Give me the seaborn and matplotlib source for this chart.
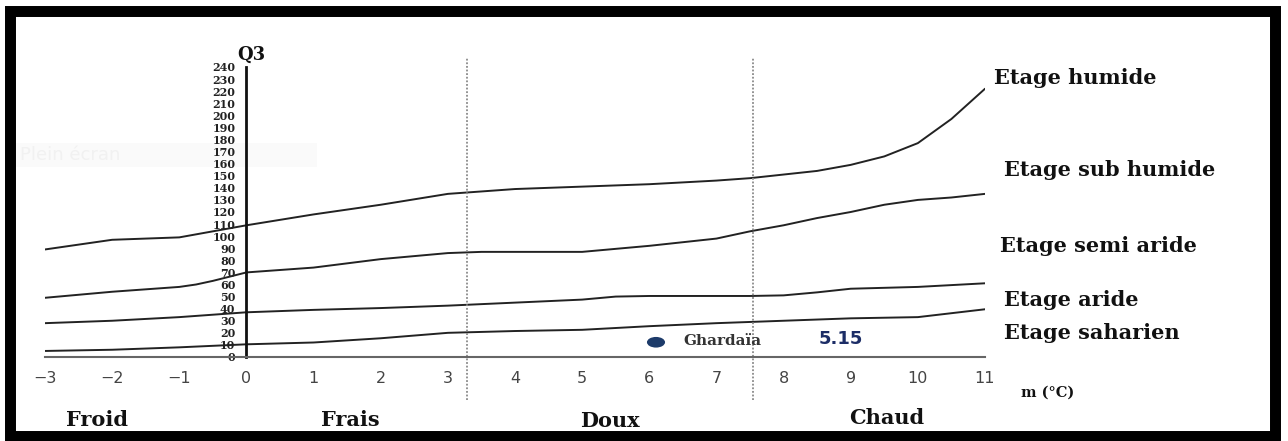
import numpy as np
import pandas as pd
import matplotlib
matplotlib.use('Agg')
import matplotlib.pyplot as plt
from matplotlib.patches import Rectangle
from matplotlib.path import Path
from matplotlib.transforms import Affine2D
import seaborn as sns

# Climagramme d'Emberger - limites des étages bioclimatiques
m_humide = [-3, -2, -1, -0.5, 0, 1, 2, 3, 3.5, 4, 5, 6, 7, 7.5, 8, 8.5, 9, 9.5, 10, 10.5, 11]
q_humide = [89, 97, 99, 104, 109, 118, 126, 135, 137, 139, 141, 143, 146, 148, 151, 154, 159, 166, 177, 197, 222]

m_subhumide = [-3, -2, -1, -0.75, -0.5, 0, 1, 2, 3, 3.5, 4, 5, 6, 7, 7.5, 8, 8.5, 9, 9.5, 10, 10.5, 11]
q_subhumide = [49, 54, 58, 60, 63, 70, 74, 81, 86, 87, 87, 87, 92, 98, 104, 109, 115, 120, 126, 130, 132, 135]

m_semiaride = [-3, -2, -1, 0, 1, 2, 3, 4, 5, 5.5, 6, 7, 7.5, 8, 8.5, 9, 10, 11]
q_semiaride = [28, 30, 33, 37, 39, 40.5, 42.5, 45, 47.5, 50, 50.5, 50.5, 50.5, 51, 53.5, 56.5, 58, 61]

m_aride = [-3, -2, -1, 0, 1, 2, 3, 4, 5, 6, 7, 7.5, 8, 9, 10, 11]
q_aride = [5, 6, 8, 10.5, 12, 15.5, 20, 21.5, 22.5, 25.5, 28, 29, 30, 32, 33, 39.5]

# Station
station = 'Ghardaïa'
station_m = [6.1]
station_q = [12.2]
station_q2 = '5.15'

# Etiquettes des étages et des zones thermiques
etages = ['Etage humide', 'Etage sub humide', 'Etage semi aride', 'Etage aride', 'Etage saharien']
etages_x = [11.13, 11.29, 11.22, 11.29, 11.29]
etages_y = [231, 155, 92, 47, 20]

zones = ['Froid', 'Frais', 'Doux', 'Chaud']
zones_x = [-2.23, 1.54, 5.42, 9.53]
zones_y = [-52, -52, -53, -50.5]
limites_zones = [3.28, 7.54]

x_ticks = list(range(-3, 12))
y_ticks = list(range(0, 250, 10))

sns.set_style('white')
plt.rcParams['font.family'] = ['DejaVu Serif', 'DejaVu Sans']

fig = plt.figure(figsize=(12.88, 4.41), dpi=100)
ax = fig.add_axes([0.03494, 0.19048, 0.72981, 0.65760])

# bande "Plein écran" (capture d'écran)
ax.add_patch(Rectangle((-3.45, 157), 4.5, 20, facecolor='#fafafa', edgecolor='none',
                       clip_on=False, zorder=0))
ax.text(-3.37, 167, 'Plein écran', family='DejaVu Sans', fontsize=13, color='#f1f1f1',
        va='center', ha='left', clip_on=False, zorder=0)

# courbes limites
for m, q in [(m_humide, q_humide), (m_subhumide, q_subhumide),
             (m_semiaride, q_semiaride), (m_aride, q_aride)]:
    sns.lineplot(x=m, y=q, ax=ax, color='#222222', linewidth=1.4)

# limites des zones thermiques
ax.vlines(limites_zones, -36, 248, colors='#8a8a8a', linestyles=(0, (1, 1)),
          linewidth=1.3, clip_on=False)

# station
ellipse = Path.unit_circle().transformed(Affine2D().scale(1.7, 1.0))
sns.scatterplot(x=station_m, y=station_q, ax=ax, marker=ellipse, s=170,
                color='#1d3b6a', edgecolor='none', zorder=5)
ax.text(6.51, 13.5, station, fontsize=11, fontweight='bold', color='#333333',
        va='center', ha='left')
ax.text(8.52, 14.9, station_q2, family='DejaVu Sans', fontsize=13, fontweight='bold',
        color='#1c2d66', va='center', ha='left')

# axes
ax.set_xlim(-3, 11)
ax.set_ylim(0, 240)
ax.spines['left'].set_position(('data', 0))
ax.spines['bottom'].set_position(('data', 0))
ax.spines['right'].set_visible(False)
ax.spines['top'].set_visible(False)
ax.spines['left'].set_color('#111111')
ax.spines['left'].set_linewidth(2)
ax.spines['bottom'].set_color('#666666')
ax.spines['bottom'].set_linewidth(1.5)

ax.set_xticks(x_ticks)
ax.set_yticks(y_ticks)
ax.tick_params(axis='x', direction='out', length=3, width=1.5, color='#666666',
               pad=7, labelsize=11.5, labelcolor='#444444')
ax.tick_params(axis='y', direction='out', length=4, width=1.2, color='#222222',
               pad=4, labelsize=8, labelcolor='#222222')
for lab in ax.get_xticklabels():
    lab.set_family('DejaVu Sans')
for lab in ax.get_yticklabels():
    lab.set_fontweight('bold')
ax.set_xlabel('')
ax.set_ylabel('')

ax.text(0.07, 250, 'Q3', fontsize=13, fontweight='bold', color='#111111',
        ha='center', va='center', clip_on=False)
ax.text(11.53, -29.8, 'm (°C)', fontsize=10.5, fontweight='bold', color='#111111',
        ha='left', va='center', clip_on=False)

for txt, x, y in zip(etages, etages_x, etages_y):
    ax.text(x, y, txt, fontsize=15, fontweight='bold', color='#111111',
            ha='left', va='center', clip_on=False)

for txt, x, y in zip(zones, zones_x, zones_y):
    ax.text(x, y, txt, fontsize=15, fontweight='bold', color='#111111',
            ha='center', va='center', clip_on=False)

# cadre noir de la capture
fig.patches.append(Rectangle((0.00815, 0.01134), 0.98137, 0.96485, transform=fig.transFigure,
                             fill=False, edgecolor='black', linewidth=7.9, joinstyle='miter'))

fig.savefig('out.png', dpi=100)
